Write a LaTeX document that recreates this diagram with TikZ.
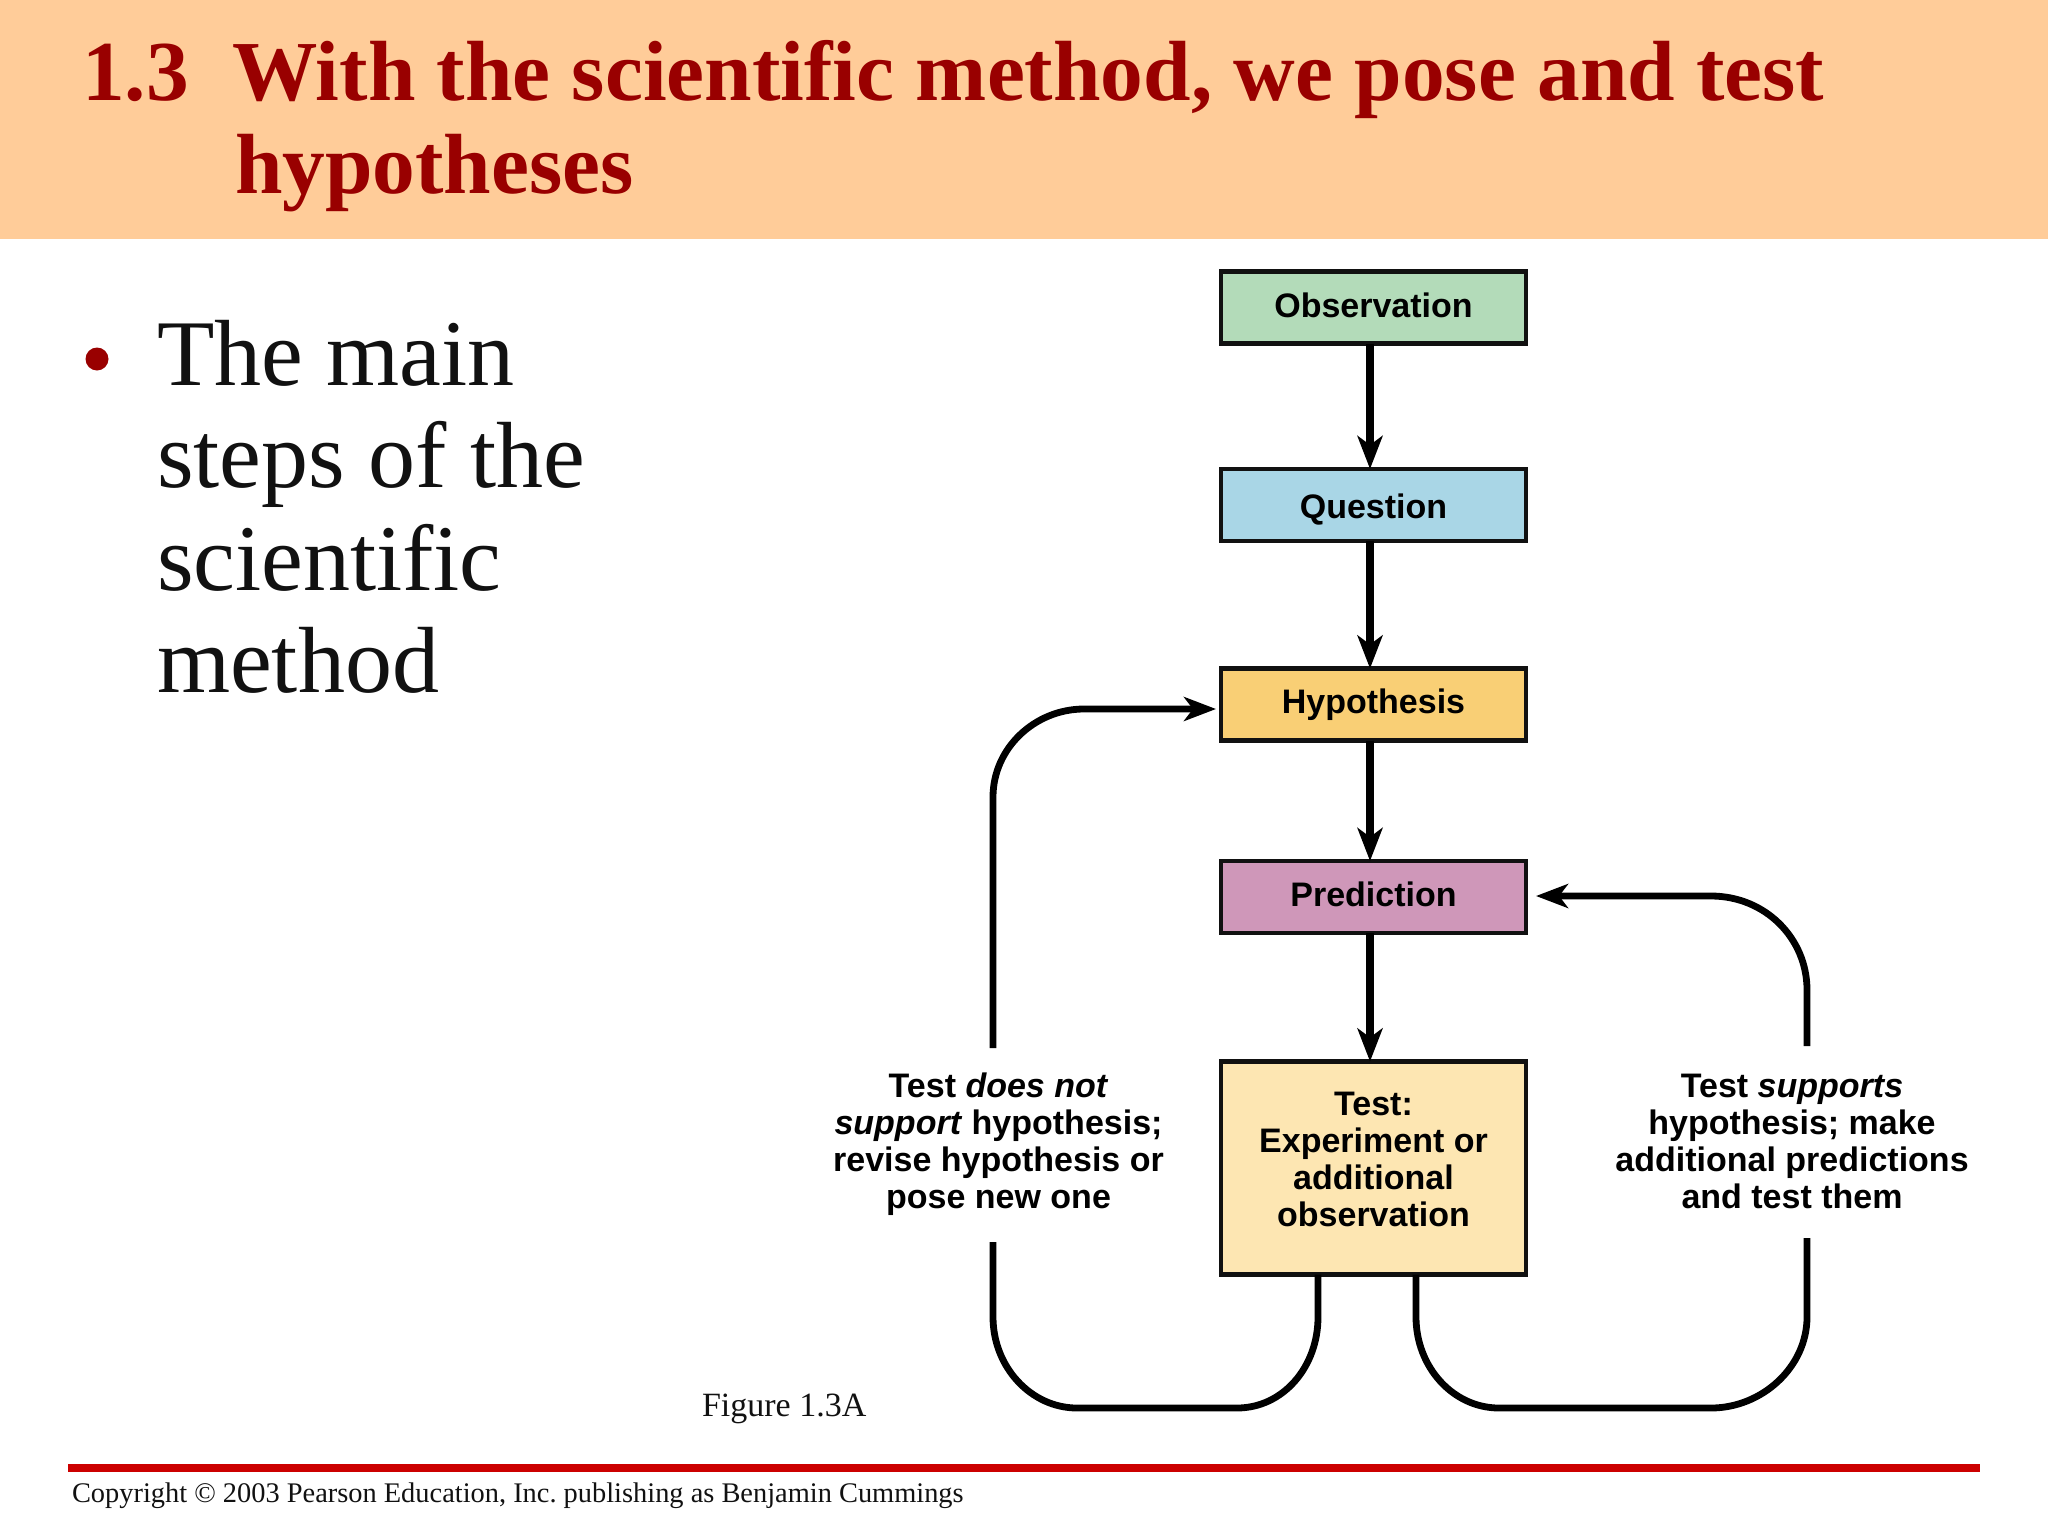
\documentclass[tikz,border=0pt]{standalone}
\usepackage{fontspec}
\setmainfont{Liberation Serif}
\setsansfont{Liberation Sans}
\usetikzlibrary{arrows.meta}
\frenchspacing
\definecolor{band}{HTML}{FFCC99}
\definecolor{titlered}{HTML}{990000}
\definecolor{rulered}{HTML}{CC0000}
\definecolor{cobs}{HTML}{B3DBB9}
\definecolor{cque}{HTML}{A9D6E6}
\definecolor{chyp}{HTML}{F9CF75}
\definecolor{cpre}{HTML}{CF97B9}
\definecolor{ctes}{HTML}{FDE6B2}
\definecolor{ink}{HTML}{111111}
\tikzset{
  x=0.5pt,y=-0.5pt,
  stepbox/.style={draw=ink,line width=2.2pt,minimum width=152.5pt,minimum height=36pt,inner sep=0pt,outer sep=0pt,
    font=\sffamily\bfseries\fontsize{17}{18.5}\selectfont,align=center},
  lab/.style={inner sep=0pt,outer sep=0pt,font=\sffamily\bfseries\fontsize{17}{18.5}\selectfont,align=center,text=black},
  titletext/.style={anchor=base west,inner sep=0pt,outer sep=0pt,text=titlered,font=\rmfamily\bfseries\fontsize{42.7}{50}\selectfont},
  bodytext/.style={anchor=base west,inner sep=0pt,outer sep=0pt,text=ink,font=\rmfamily\fontsize{47}{51}\selectfont},
  smalltext/.style={anchor=base west,inner sep=0pt,outer sep=0pt,text=ink,font=\rmfamily\fontsize{17}{18}\selectfont},
  flow/.style={draw=black,line width=3.8pt,-{Stealth[length=16.5pt,width=12.5pt,inset=4.5pt]}},
  loopline/.style={draw=black,line width=3.4pt},
  looparrow/.style={draw=black,line width=3.4pt,-{Stealth[length=16pt,width=12pt,inset=4.5pt]}}
}
\begin{document}
\begin{tikzpicture}
\useasboundingbox (0,0) rectangle (2048,1536);
\fill[white] (0,0) rectangle (2048,1536);
\fill[band] (0,0) rectangle (2048,239);
\node[titletext] (t1) at (82,100) {1.3};
\node[titletext] (t2) at (232,100) {With the scientific method, we pose and test};
\node[titletext] (t3) at (235,193) {hypotheses};
\fill[titlered] (97,359) circle (11.5);
\node[bodytext] (b1) at (157,385) {The main};
\node[bodytext] (b2) at (157,487) {steps of the};
\node[bodytext] (b3) at (157,590) {scientific};
\node[bodytext] (b4) at (157,692) {method};
\node[smalltext] (fig) at (702,1416) {Figure 1.3A};
\fill[rulered] (68,1464) rectangle (1980,1472);
\node[smalltext,font=\rmfamily\fontsize{14.2}{16}\selectfont] (copy) at (72,1502) {Copyright © 2003 Pearson Education, Inc. publishing as Benjamin Cummings};

\node[stepbox,fill=cobs,text height=13.8pt,text depth=4pt] (obs) at (1373.5,307.5) {Observation};
\node[stepbox,fill=cque,text height=17.8pt,text depth=4pt] (que) at (1373.5,505) {Question};
\node[stepbox,fill=chyp,text height=13.2pt,text depth=4pt] (hyp) at (1373.5,704.5) {Hypothesis};
\node[stepbox,fill=cpre,text height=13.2pt,text depth=4pt] (pre) at (1373.5,897) {Prediction};
\node[stepbox,fill=ctes,minimum height=106.5pt] (tes) at (1373.5,1168) {Test:\\Experiment or\\additional\\observation\\[-9.5pt]\rule{0pt}{0pt}};
\node[lab] (no) at (998.5,1144.5) {Test \textit{does not}\\\textit{support} hypothesis;\\revise hypothesis or\\pose new one};
\node[lab] (yes) at (1792,1141) {Test \textit{supports}\\hypothesis; make\\additional predictions\\and test them};

\draw[flow] ([xshift=-1.75pt]obs.south) -- ([xshift=-1.75pt]que.north);
\draw[flow] ([xshift=-1.75pt]que.south) -- ([xshift=-1.75pt]hyp.north);
\draw[flow] ([xshift=-1.75pt]hyp.south) -- ([xshift=-1.75pt]pre.north);
\draw[flow] ([xshift=-1.75pt]pre.south) -- ([xshift=-1.75pt]tes.north);

\coordinate (la) at (993,1242);
\coordinate (lb) at (993,1048);
\coordinate (ra) at (1807,1238);
\coordinate (rb) at (1807,1046);
\draw[loopline] (tes.south -| 1318,0) -- (1318,1317) .. controls (1318,1367) and (1283,1408) .. (1237,1408) -- (1077,1408) .. controls (1031,1408) and (993,1367) .. (993,1317) -- (la);
\draw[looparrow] (lb) -- (993,797) .. controls (993,748) and (1035,709) .. (1084,709) -- ([xshift=-2.5pt]hyp.west |- 0,709);
\draw[loopline] (tes.south -| 1416,0) -- (1416,1317) .. controls (1416,1367) and (1453,1408) .. (1499,1408) -- (1711,1408) .. controls (1762,1408) and (1807,1367) .. (1807,1317) -- (ra);
\draw[looparrow] (rb) -- (1807,990) .. controls (1807,938) and (1765,896) .. (1711,896) -- ([xshift=5pt]pre.east |- 0,896);
\end{tikzpicture}
\end{document}
